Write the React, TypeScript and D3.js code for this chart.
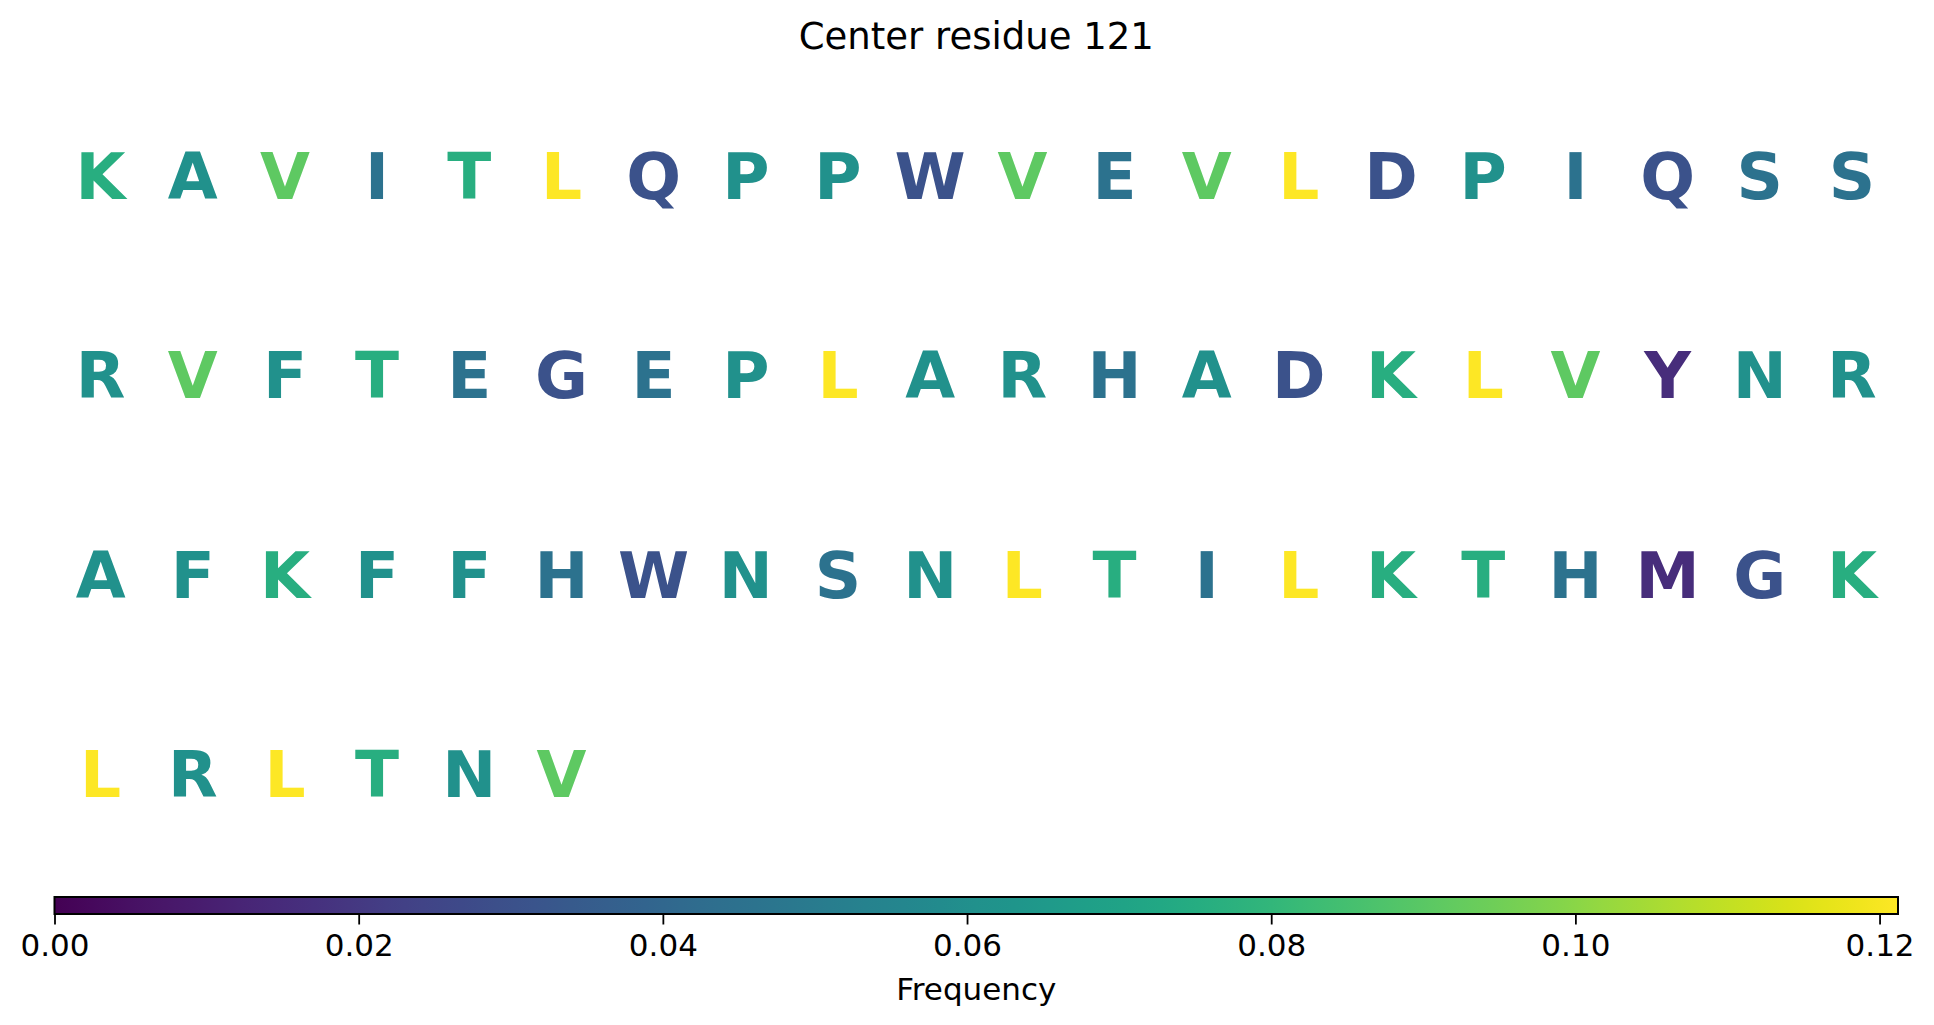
import React, { useEffect, useRef } from 'react';
import * as d3 from 'd3';

// Sequence window around the center residue, read left-to-right, top-to-bottom
const residues: string[] = [
  'K', 'A', 'V', 'I', 'T', 'L', 'Q', 'P', 'P', 'W', 'V', 'E', 'V', 'L', 'D', 'P', 'I', 'Q', 'S', 'S',
  'R', 'V', 'F', 'T', 'E', 'G', 'E', 'P', 'L', 'A', 'R', 'H', 'A', 'D', 'K', 'L', 'V', 'Y', 'N', 'R',
  'A', 'F', 'K', 'F', 'F', 'H', 'W', 'N', 'S', 'N', 'L', 'T', 'I', 'L', 'K', 'T', 'H', 'M', 'G', 'K',
  'L', 'R', 'L', 'T', 'N', 'V',
];
const columnsPerRow = 20;
const rowCount = 4;
const colorbarTicks: number[] = [0, 0.02, 0.04, 0.06, 0.08, 0.1, 0.12];
const titleText = 'Center residue 121';
const colorbarLabel = 'Frequency';

const App: React.FC = () => {
  const svgRef = useRef<SVGSVGElement>(null);

  useEffect(() => {
    document.body.style.margin = '0';
    if (!svgRef.current) return;
    const svg = d3.select(svgRef.current);
    svg.selectAll('*').remove();

    const W = 1934;
    const H = 1025;
    svg.attr('width', W).attr('height', H);

    // residue frequency within the window
    const counts = d3.rollup(residues, v => v.length, d => d);
    const freq = (r: string) => (counts.get(r) || 0) / residues.length;
    const maxFreq = d3.max(Array.from(counts.values())) as number / residues.length;

    const color = d3.scaleSequential(d3.interpolateViridis).domain([0, maxFreq]);

    const axLeft = 54.5;
    const axRight = 1898;
    const axTop = 76;
    const axBottom = 873;

    const x = d3.scaleBand<number>()
      .domain(d3.range(columnsPerRow))
      .range([axLeft, axRight]);
    const y = d3.scaleBand<number>()
      .domain(d3.range(rowCount))
      .range([axTop, axBottom]);

    const font = "'DejaVu Sans', sans-serif";
    const letterSize = 64.5;

    // Title
    svg.append('text')
      .attr('x', (axLeft + axRight) / 2)
      .attr('y', 49)
      .attr('text-anchor', 'middle')
      .style('font-family', font)
      .style('font-size', '37px')
      .style('fill', '#000')
      .text(titleText);

    // Letters
    svg.append('g')
      .selectAll('text')
      .data(residues)
      .enter()
      .append('text')
      .attr('x', (d, i) => (x(i % columnsPerRow) as number) + x.bandwidth() / 2)
      .attr('y', (d, i) => (y(Math.floor(i / columnsPerRow)) as number) + y.bandwidth() / 2 + letterSize * 0.729 / 2)
      .attr('text-anchor', 'middle')
      .style('font-family', font)
      .style('font-weight', 'bold')
      .style('font-size', `${letterSize}px`)
      .style('fill', d => color(freq(d)))
      .text(d => d);

    // Colorbar
    const cbTop = 897;
    const cbHeight = 17;
    const cbScale = d3.scaleLinear().domain([0, maxFreq]).range([axLeft, axRight]);

    const defs = svg.append('defs');
    const grad = defs.append('linearGradient')
      .attr('id', 'viridis-grad')
      .attr('x1', '0%').attr('x2', '100%')
      .attr('y1', '0%').attr('y2', '0%');
    d3.range(0, 1.0001, 0.02).forEach(t => {
      grad.append('stop')
        .attr('offset', `${t * 100}%`)
        .attr('stop-color', d3.interpolateViridis(t));
    });

    svg.append('rect')
      .attr('x', axLeft)
      .attr('y', cbTop)
      .attr('width', axRight - axLeft)
      .attr('height', cbHeight)
      .attr('fill', 'url(#viridis-grad)')
      .attr('stroke', '#000')
      .attr('stroke-width', 2);

    const cbAxis = svg.append('g')
      .attr('transform', `translate(0,${cbTop + cbHeight})`)
      .call(
        d3.axisBottom(cbScale)
          .tickValues(colorbarTicks)
          .tickFormat(d3.format('.2f'))
          .tickSize(10.5)
          .tickPadding(9)
      );
    cbAxis.select('.domain').remove();
    cbAxis.selectAll('line').attr('stroke', '#000').attr('stroke-width', 1.8);
    cbAxis.selectAll('text')
      .style('font-family', font)
      .style('font-size', '31px')
      .style('fill', '#000');

    svg.append('text')
      .attr('x', (axLeft + axRight) / 2)
      .attr('y', 1000)
      .attr('text-anchor', 'middle')
      .style('font-family', font)
      .style('font-size', '31px')
      .style('fill', '#000')
      .text(colorbarLabel);
  }, []);

  return (
    <div>
      <svg ref={svgRef} style={{ display: 'block', background: '#fff' }}></svg>
    </div>
  );
};

export default App;
